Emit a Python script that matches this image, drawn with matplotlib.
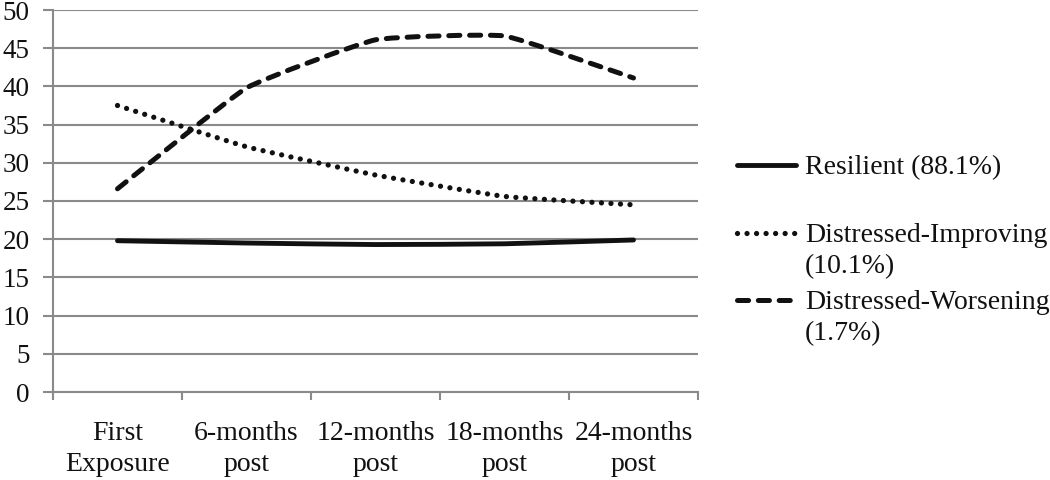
import matplotlib
matplotlib.use("Agg")
import numpy as np
import matplotlib.pyplot as plt
from matplotlib.path import Path
from matplotlib.patches import PathPatch
from matplotlib.lines import Line2D

plt.rcParams['font.family'] = ['Liberation Serif', 'DejaVu Serif']
plt.rcParams['lines.scale_dashes'] = False

categories = ["First\nExposure", "6-months\npost", "12-months\npost", "18-months\npost", "24-months\npost"]
resilient = [19.8, 19.5, 19.3, 19.4, 19.9]
improving = [37.5, 32.1, 28.4, 25.6, 24.5]
worsening = [26.6, 39.8, 46.1, 46.6, 41.1]
labels = ["Resilient (88.1%)", "Distressed-Improving\n(10.1%)", "Distressed-Worsening\n(1.7%)"]

grid_col = "#8a8a8a"
ink = "#111111"


def smooth_path(x, y, k=0.06):
    # excel style smoothed line: cubic bezier through the points
    x = np.asarray(x, float)
    y = np.asarray(y, float)
    n = len(x)
    verts = [(x[0], y[0])]
    codes = [Path.MOVETO]
    for i in range(n - 1):
        x0, y0 = (x[i - 1], y[i - 1]) if i > 0 else (x[i], y[i])
        x3, y3 = (x[i + 2], y[i + 2]) if i + 2 < n else (x[i + 1], y[i + 1])
        c1 = (x[i] + (x[i + 1] - x0) * k, y[i] + (y[i + 1] - y0) * k)
        c2 = (x[i + 1] - (x3 - x[i]) * k, y[i + 1] - (y3 - y[i]) * k)
        verts += [c1, c2, (x[i + 1], y[i + 1])]
        codes += [Path.CURVE4] * 3
    return Path(verts, codes)


fig = plt.figure(figsize=(10.5, 4.8), dpi=100)
ax = fig.add_axes([53 / 1050, 1 - 392 / 480, 645 / 1050, 382 / 480])

xs = np.arange(len(categories))
styles = [
    dict(linestyle="-", linewidth=3.5),
    dict(linestyle=(0, (0.01, 6.85)), linewidth=3.8),
    dict(linestyle=(0, (8.0, 7.0)), linewidth=3.6),
]
for vals, st in zip([resilient, improving, worsening], styles):
    patch = PathPatch(smooth_path(xs, vals), fill=False, edgecolor=ink, capstyle="round",
                      joinstyle="round", **st)
    ax.add_patch(patch)

ax.set_xlim(-0.5, len(categories) - 0.5)
ax.set_ylim(0, 50)
ax.set_yticks(np.arange(0, 51, 5))
ax.set_xticks(xs)
ax.set_xticklabels(categories, fontsize=20, linespacing=1.3)
ax.set_xticks(np.arange(-0.5, len(categories), 1), minor=True)
ax.tick_params(axis="x", which="major", length=0, pad=21, colors=ink)
ax.tick_params(axis="x", which="minor", length=6, width=1.5, color=grid_col, direction="out")
ax.tick_params(axis="y", length=7, width=1.5, color=grid_col, pad=10, labelsize=19.5, labelcolor=ink)

ax.grid(axis="y", color=grid_col, linewidth=1.5)
ax.set_axisbelow(True)
for s in ["top", "right"]:
    ax.spines[s].set_visible(False)
for s in ["left", "bottom"]:
    ax.spines[s].set_color(grid_col)
    ax.spines[s].set_linewidth(1.5)

# legend on the right, handle next to first line of each label
leg_y = [165, 233, 300]
for lab, st, yy in zip(labels, styles, leg_y):
    yf = 1 - yy / 480
    ln = Line2D([737 / 1050, 796 / 1050], [yf, yf], transform=fig.transFigure,
                color=ink, linestyle=st["linestyle"], linewidth=st["linewidth"],
                solid_capstyle="round", dash_capstyle="round")
    fig.add_artist(ln)
    fig.text(805 / 1050, 1 - (yy - 10) / 480, lab, fontsize=20, va="top", ha="left",
             color=ink, linespacing=1.3)

fig.savefig("out.png", dpi=100)
